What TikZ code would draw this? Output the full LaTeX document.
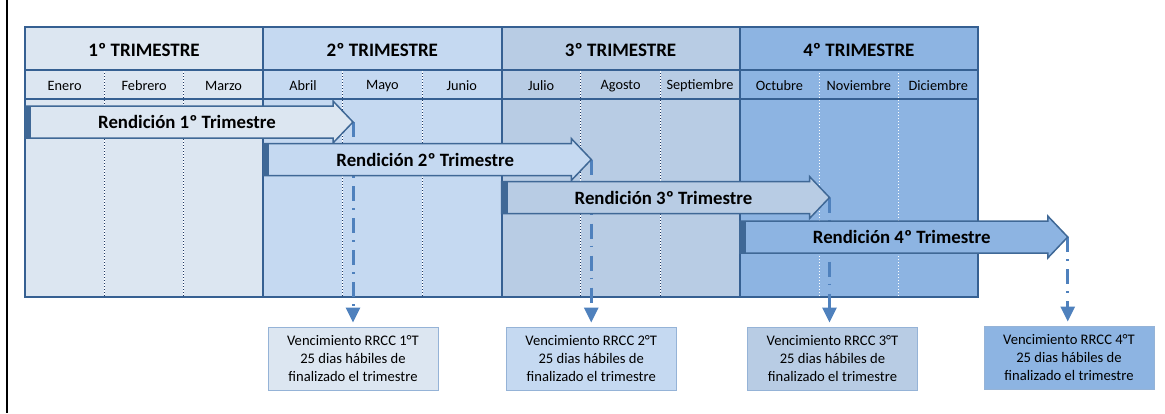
\documentclass[tikz,border=0pt]{standalone}
\usepackage{fontspec}
\setmainfont{Carlito}
\usetikzlibrary{arrows.meta}
\definecolor{qone}{HTML}{DCE6F1}
\definecolor{qtwo}{HTML}{C5D9F1}
\definecolor{qthree}{HTML}{B8CCE4}
\definecolor{qfour}{HTML}{8DB4E2}
\definecolor{gridblue}{HTML}{366092}
\definecolor{arrowline}{HTML}{3F6896}
\definecolor{dueline}{HTML}{4F81BD}
\definecolor{boxline}{HTML}{95B3D7}
\definecolor{navy}{HTML}{1F3864}
\pgfdeclarelayer{back}
\pgfdeclarelayer{mid}
\pgfsetlayers{back,mid,main}
\tikzset{
  frame/.style={draw=gridblue, line width=2pt},
  month/.style={font=\fontsize{14.3}{16}\selectfont},
  quarter/.style={font=\fontsize{19}{21}\selectfont\bfseries},
  banner/.style={font=\fontsize{18.8}{21}\selectfont\bfseries},
  duebox/.style={draw=boxline, line width=1pt, minimum width=170pt, minimum height=63pt,
    align=center, inner sep=0pt, font=\fontsize{14.6}{17.6}\selectfont},
  due/.style={draw=dueline, line width=3pt, dash pattern=on 15pt off 7pt on 1.5pt off 8.5pt,
    -{Triangle[length=15pt,width=14pt]}, shorten >=4pt}
}
\begin{document}
\begin{tikzpicture}[x=1pt,y=-1pt]
      \useasboundingbox (0,0) rectangle (1165,413);
      \draw[line width=2pt] (6.5,0) -- (6.5,413);
      \begin{pgfonlayer}{back}
        \foreach \col [count=\i from 0] in {qone,qtwo,qthree,qfour} {
          \fill[\col] (25+238.25*\i,27) rectangle (263.25+238.25*\i,297);
        }
        \foreach \k in {1,2,4,5,7,8} {
          \draw[white, line width=1pt] (25+79.417*\k,70) -- (25+79.417*\k,297);
          \draw[navy, line width=1pt, dotted] (25+79.417*\k,70) -- (25+79.417*\k,297);
        }
        \foreach \k in {10,11} {
          \draw[white, line width=1pt, dotted] (25+79.417*\k,70) -- (25+79.417*\k,297);
        }
        \draw[frame] (25,27) rectangle (978,297);
        \draw[frame] (25,70) -- (978,70);
        \draw[frame] (25,99) -- (978,99);
        \foreach \x in {263.25,501.5,739.75} {
          \draw[frame] (\x,27) -- (\x,297);
        }
      \end{pgfonlayer}
      \foreach \i in {1,2,3,4} {
        \node[quarter] (h\i) at (144.1+238.25*\i-238.25,49.5) {\i º TRIMESTRE};
      }
      \foreach \m [count=\k from 0] in {Enero,Febrero,Marzo,Abril,Mayo,Junio,Julio,Agosto,Septiembre,Octubre,Noviembre,Diciembre} {
        \node[month] (m\k) at (64.7+79.417*\k,86) {\m};
      }
      \foreach \i/\y/\col/\lab in {1/122/qone/Rendición 1º Trimestre,2/159.5/qtwo/Rendición 2º Trimestre,3/197.5/qthree/Rendición 3º Trimestre,4/237/qfour/Rendición 4º Trimestre} {
        \pgfmathsetmacro\xl{25+238.25*(\i-1)}
        \filldraw[fill=\col, draw=arrowline, line width=1.5pt, line join=miter]
          (\xl,\y-16) -- (\xl+308,\y-16) -- (\xl+308,\y-21) -- (\xl+328,\y)
          -- (\xl+308,\y+21) -- (\xl+308,\y+16) -- (\xl,\y+16) -- cycle;
        \fill[arrowline] (\xl,\y-16) rectangle (\xl+6,\y+16);
        \node[banner] (r\i) at (\xl+162,\y) {\lab};
        \coordinate (t\i) at (\xl+328,\y);
      }
      \node[duebox, fill=qone] (v1) at (353,358.5) {Vencimiento RRCC 1°T\\25 dias hábiles de\\finalizado el trimestre};
      \node[duebox, fill=qtwo] (v2) at (591.25,358.5) {Vencimiento RRCC 2°T\\25 dias hábiles de\\finalizado el trimestre};
      \node[duebox, fill=qthree] (v3) at (832.5,358.5) {Vencimiento RRCC 3°T\\25 dias hábiles de\\finalizado el trimestre};
      \node[duebox, fill=qfour] (v4) at (1069,357.5) {Vencimiento RRCC 4°T\\25 dias hábiles de\\finalizado el trimestre};
      \begin{pgfonlayer}{mid}
        \foreach \i in {1,2,3,4} {
          \draw[due] (t\i) -- (t\i |- v\i.north);
        }
      \end{pgfonlayer}
\end{tikzpicture}
\end{document}
